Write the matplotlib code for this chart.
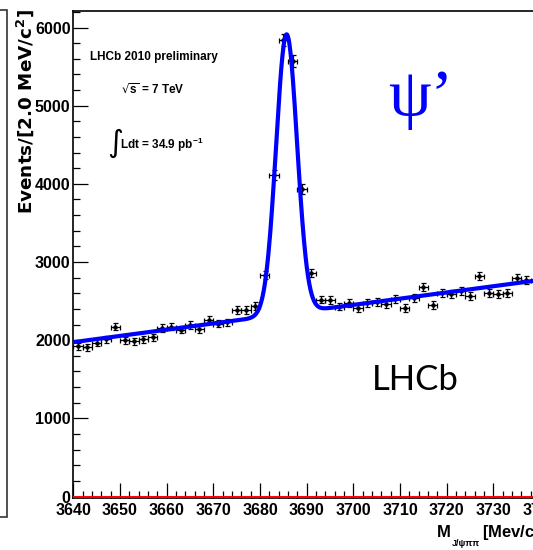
import numpy as np
import matplotlib
matplotlib.use("Agg")
import matplotlib.pyplot as plt
from matplotlib import font_manager
from matplotlib.ticker import MultipleLocator
from matplotlib.patches import Rectangle

# J/psi pi pi invariant mass, 2 MeV bins (bin centres)
mass = np.arange(3641, 3738, 2)
events = [1920, 1910, 1970, 2010, 2175, 2000, 1985, 2015, 2040, 2155,
          2175, 2133, 2195, 2140, 2262, 2210, 2230, 2383, 2383, 2440,
          2838, 4110, 5840, 5570, 3930, 2860, 2520, 2510, 2430, 2476,
          2408, 2474, 2492, 2468, 2530, 2415, 2545, 2680, 2448, 2607,
          2588, 2628, 2562, 2817, 2606, 2592, 2606, 2790, 2768]

# fit: gaussian signal on a linear background
fit_mean = 3685.7
fit_sigma = 2.25
fit_peak = 3575
bkg_start = 1975
bkg_slope = 7.95

W, H = 533, 550


def fx(x):
    return x / W


def fy(y):
    return 1 - y / H


names = {f.name for f in font_manager.fontManager.ttflist}
narrow = "Liberation Sans Narrow" if "Liberation Sans Narrow" in names else "Liberation Sans"
small = 10 if narrow == "Liberation Sans Narrow" else 8.5

plt.rcParams["font.family"] = ["Liberation Sans", "DejaVu Sans"]
plt.rcParams["mathtext.default"] = "regular"

fig = plt.figure(figsize=(W / 100, H / 100), dpi=100)
ax = fig.add_axes([fx(73.3), fy(497.5), fx(540 - 73.3), (497.5 - 10.7) / H])

# data points with errors
yerr = np.sqrt(events)
ax.errorbar(mass, events, xerr=1, yerr=yerr, fmt="o", ms=2.2, color="black",
            ecolor="black", elinewidth=0.9, capsize=1.8, capthick=0.9, zorder=2)

# fit curve
m = np.linspace(3640, 3740, 800)
fit = bkg_start + bkg_slope * (m - 3640) + fit_peak * np.exp(-0.5 * ((m - fit_mean) / fit_sigma) ** 2)
ax.plot(m, fit, color="#0000ff", lw=3.0, zorder=3, solid_capstyle="round")

ax.axhline(0, color="red", lw=1.4, zorder=4)

ax.set_xlim(3640, 3740)
ax.set_ylim(-12, 6215)

ax.xaxis.set_major_locator(MultipleLocator(10))
ax.xaxis.set_minor_locator(MultipleLocator(2))
ax.yaxis.set_major_locator(MultipleLocator(1000))
ax.yaxis.set_minor_locator(MultipleLocator(200))
ax.tick_params(which="both", direction="in", top=False, right=False, width=0.9)
ax.tick_params(which="major", length=10.5)
ax.tick_params(which="minor", length=5)
ax.tick_params(axis="y", pad=2)
ax.tick_params(axis="x", pad=4)
for lab in ax.get_xticklabels() + ax.get_yticklabels():
    lab.set_fontweight("bold")
    lab.set_fontsize(11.5)
for sp in ax.spines.values():
    sp.set_linewidth(1.2)
ax.spines["right"].set_visible(False)

# axis titles
fig.text(fx(25), fy(9), "Events/[2.0 MeV/c$^{2}$]", rotation=90, ha="center", va="top",
         family="DejaVu Sans", fontweight="bold", fontsize=13.2)
fig.text(fx(437), fy(537), "M", fontweight="bold", fontsize=12, va="baseline")
fig.text(fx(452), fy(546), "J/\u03c8\u03c0\u03c0", fontweight="bold", fontsize=6.5,
         va="baseline")
fig.text(fx(482), fy(537), "[Mev/c$^{2}$]", fontweight="bold", fontsize=12, va="baseline")

# annotations
fig.text(fx(90), fy(57), "LHCb 2010 preliminary", family=narrow, fontweight="bold",
         fontsize=small, va="center")
fig.text(fx(121), fy(90), r"$\sqrt{s}$ = 7 TeV", family=narrow, fontweight="bold",
         fontsize=small, va="center")
fig.text(fx(107), fy(143), "\u222b", family="DejaVu Sans", fontsize=22, va="center")
fig.text(fx(120), fy(145), "Ldt = 34.9 pb$^{-1}$", family=narrow, fontweight="bold",
         fontsize=small, va="center")
fig.text(fx(388), fy(116), "\u03c8\u2019", family="Liberation Serif", fontsize=49,
         color="#0000ff", va="baseline")
fig.text(fx(372), fy(390), "LHCb", family="Lato", fontsize=25, va="baseline")

# edge of the neighbouring frame on the left
fig.add_artist(Rectangle((-0.05, fy(517)), fx(7) + 0.05, (517 - 10) / H, transform=fig.transFigure,
                         fill=False, edgecolor="#333333", lw=1.2))

fig.savefig("out.png", dpi=100)
